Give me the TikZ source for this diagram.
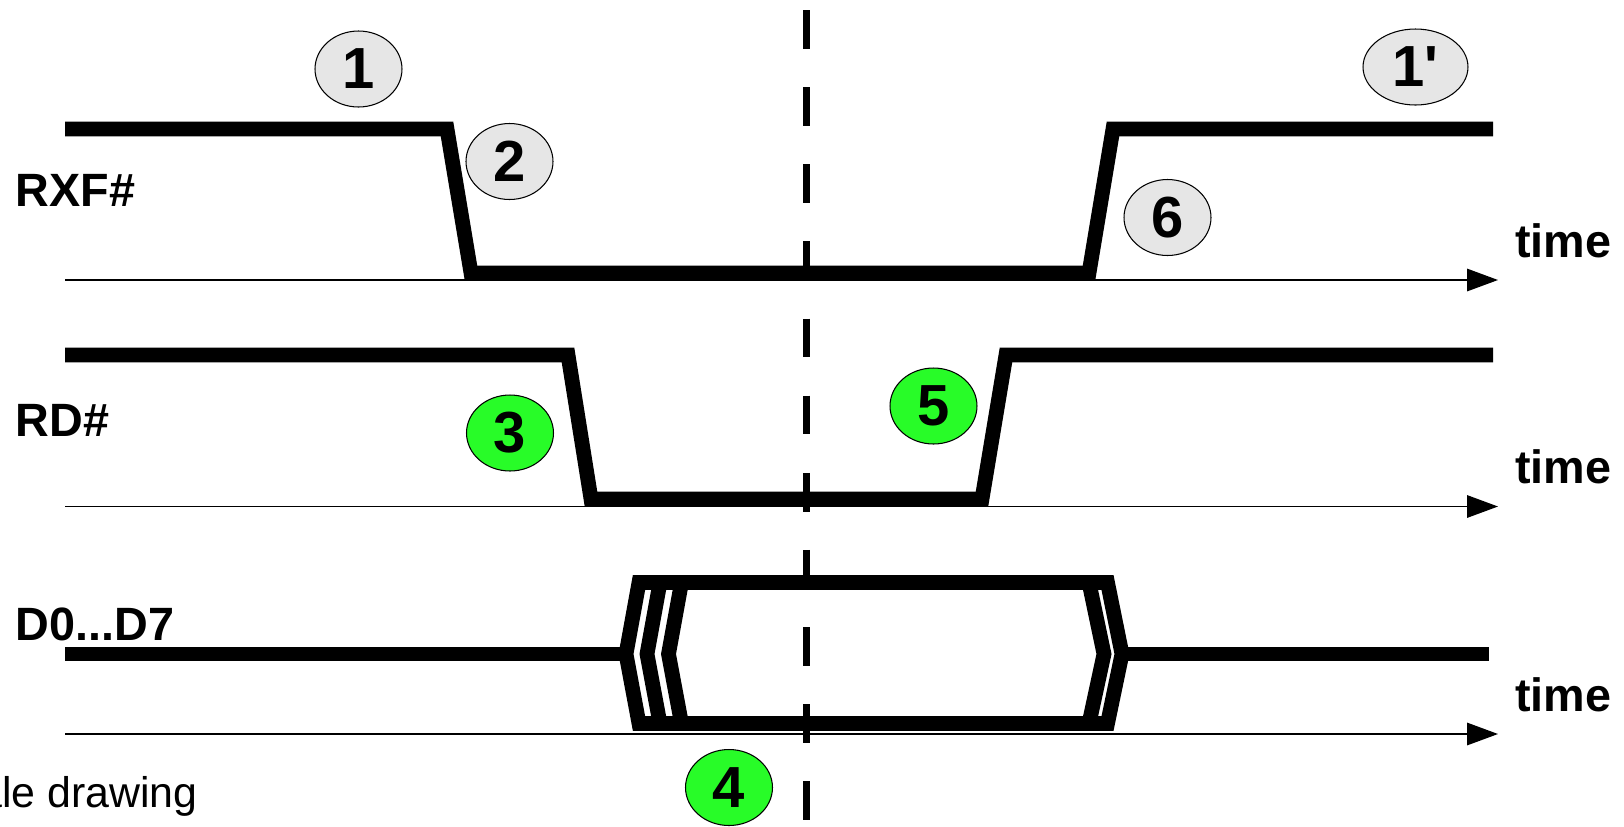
\documentclass[tikz,border=0pt]{standalone}
\usepackage{fontspec}
\setmainfont{Liberation Sans}
\usepackage{xcolor}
\usepackage{tikz}
\usetikzlibrary{arrows.meta}
\usetikzlibrary{shapes.geometric}
\definecolor{markgrey}{RGB}{230,230,230}
\definecolor{markgreen}{RGB}{40,252,40}
\tikzset{
    signal/.style={line width=8.4pt, line join=miter, line cap=butt},
    timeaxis/.style={line width=0.8pt, -{Triangle[length=17.6pt, width=12.8pt]}},
    marker/.style={ellipse, draw=black, line width=0.6pt, inner sep=0pt,
        minimum width=1.74cm, minimum height=1.52cm,
        font=\fontsize{33}{33}\selectfont\bfseries},
    signame/.style={anchor=base west, inner sep=0pt,
        font=\fontsize{26.6}{30}\selectfont\bfseries},
}

\begin{document}
\begin{tikzpicture}[x=0.02cm, y=-0.02cm]
    \useasboundingbox (0,0) rectangle (1624,826);
    \draw[line width=4.5pt, dash pattern=on 22.1pt off 21.8pt] (806.5,10) -- (806.5,826);
    \coordinate (A1) at (65,280);
    \coordinate (A2) at (65,506.5);
    \coordinate (A3) at (65,734);
    \coordinate (E1) at (1498,280);
    \coordinate (E2) at (1498,506.5);
    \coordinate (E3) at (1498,734);
    \draw[timeaxis] (A1) -- (E1);
    \draw[timeaxis] (A2) -- (E2);
    \draw[timeaxis] (A3) -- (E3);
    \node[signame] (t1) at (1515,257) {time};
    \node[signame] (t2) at (1515,483.5) {time};
    \node[signame] (t3) at (1515,711) {time};
    \node[signame] (rxf) at (15.5,206) {RXF\#};
    \node[signame] (rd) at (15.5,436) {RD\#};
    \node[signame] (data) at (15.5,640) {D0...D7};
    % RXF# and RD#
    \draw[signal] (65,129) -- (447,129) -- (471,273) -- (1089,273) -- (1113,129) -- (1493,129);
    \draw[signal] (65,355) -- (568,355) -- (591,499) -- (982,499) -- (1006,355) -- (1493,355);
    % data bus
    \draw[signal] (65,654) -- (626,654);
    \draw[signal] (1122,654) -- (1489,654);
    \draw[signal] (639,582.5) -- (1107.5,582.5) -- (1122,654) -- (1107.5,723.5) -- (639,723.5) -- (626,654) -- cycle;
    \foreach \k in {21,42.5}
        \draw[signal] (639+\k,582.5) -- (626+\k,654) -- (639+\k,723.5);
    \draw[signal] (1089,582.5) -- (1104,654) -- (1089,723.5);
    \node[marker, fill=markgrey] (m1) at (358.5,69) {1};
    \node[marker, fill=markgrey] (m2) at (509.5,161.5) {2};
    \node[marker, fill=markgrey, minimum width=2.1cm] (m1p) at (1415.5,67) {1\textquotesingle};
    \node[marker, fill=markgrey] (m6) at (1167.5,217.5) {6};
    \node[marker, fill=markgreen] (m3) at (510,433) {3};
    \node[marker, fill=markgreen] (m5) at (933.5,406) {5};
    \node[marker, fill=markgreen] (m4) at (729,787.5) {4};
    \node[anchor=base east, inner sep=0pt, font=\fontsize{24.4}{28}\selectfont] (note) at (198,807) {ale drawing};
\end{tikzpicture}
\end{document}
